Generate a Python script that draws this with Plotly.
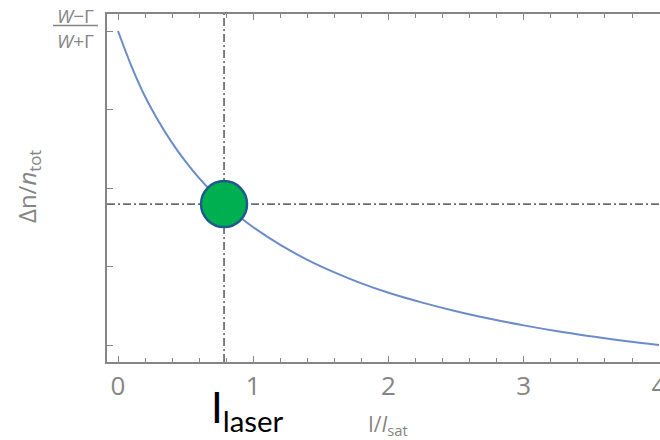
import plotly.graph_objects as go

# Population difference vs. normalised intensity
intensity = [0.0, 0.1, 0.2, 0.3, 0.4, 0.5, 0.6, 0.7, 0.8, 0.9, 1.0, 1.2, 1.4,
             1.6, 1.8, 2.0, 2.25, 2.5, 2.75, 3.0, 3.25, 3.5, 3.75, 4.0]
delta_n = [1.0, 0.91, 0.833, 0.77, 0.715, 0.667, 0.625, 0.588, 0.556, 0.526,
           0.50, 0.455, 0.417, 0.385, 0.357, 0.333, 0.308, 0.286, 0.267, 0.25,
           0.235, 0.222, 0.21, 0.20]

# Operating point of the laser
laser_x = [0.784]
laser_y = [0.559]

x_ticks = [0, 1, 2, 3, 4]
y_ticks = [0.2, 0.4, 0.6, 0.8, 1.0]

W, H = 660, 440
ML, MR, MT, MB = 107, 0, 14, 78
PW, PH = W - ML - MR, H - MT - MB


def px(x):
    return (x - ML) / PW


def py(y):
    return (H - MB - y) / PH


GRAY = "#858585"
FONT = "Open Sans"

fig = go.Figure()

fig.add_trace(go.Scatter(
    x=intensity, y=delta_n, mode="lines", line_shape="spline",
    line=dict(color="#6a8cc8", width=2), hoverinfo="skip", showlegend=False))

fig.add_trace(go.Scatter(
    x=laser_x, y=laser_y, mode="markers",
    marker=dict(size=46, color="#00b050", line=dict(color="#1f5a8c", width=2.5)),
    showlegend=False))

# dash-dot guide lines through the operating point
fig.add_shape(type="line", xref="paper", yref="y", x0=0, x1=1,
              y0=laser_y[0], y1=laser_y[0], layer="below",
              line=dict(color="black", width=1, dash="8px,3px,2px,3px"))
fig.add_shape(type="line", xref="x", yref="paper", x0=laser_x[0], x1=laser_x[0],
              y0=0, y1=1, layer="below",
              line=dict(color="black", width=1, dash="8px,3px,2px,3px"))


def label(x, y, text, size, color=GRAY, family=FONT, angle=0):
    fig.add_annotation(xref="paper", yref="paper", x=px(x), y=py(y),
                       xanchor="center", yanchor="middle", text=text,
                       textangle=angle, showarrow=False,
                       font=dict(family=family, size=size, color=color))


# fraction label for the top y tick
label(75, 16, "<i>W</i>\u2212\u0393", 19)
label(75, 41, "<i>W</i>+\u0393", 19)
fig.add_shape(type="line", xref="paper", yref="paper",
              x0=px(53), x1=px(98), y0=py(25.5), y1=py(25.5),
              line=dict(color=GRAY, width=1.5))

# axis titles
label(28, 187, "\u0394n/<i>n</i><sub>tot</sub>", 24, angle=-90)
label(388, 425, "I/<i>I</i><sub>sat</sub>", 21)
label(247, 410, "I<sub>laser</sub>", 42, color="black", family="Lato")

fig.update_layout(
    width=W, height=H, margin=dict(l=ML, r=MR, t=MT, b=MB),
    plot_bgcolor="white", paper_bgcolor="white",
    xaxis=dict(range=[-0.0813, 4.007], tickvals=x_ticks, ticks="inside",
               ticklen=6, tickcolor=GRAY, showline=True, linecolor=GRAY,
               linewidth=1.5, mirror="ticks", showgrid=False, zeroline=False,
               automargin=False, ticklabeloverflow="allow", ticklabelstandoff=0,
               tickfont=dict(family=FONT, size=26, color=GRAY),
               minor=dict(dtick=0.2, ticks="inside", ticklen=4, tickcolor=GRAY)),
    yaxis=dict(range=[0.1567, 1.0433], tickvals=y_ticks,
               ticktext=["", "", "", "", ""], ticks="inside", ticklen=6,
               tickcolor=GRAY, showline=True, linecolor=GRAY, linewidth=1.5,
               showgrid=False, zeroline=False, automargin=False),
)

fig.write_html("out.html")
